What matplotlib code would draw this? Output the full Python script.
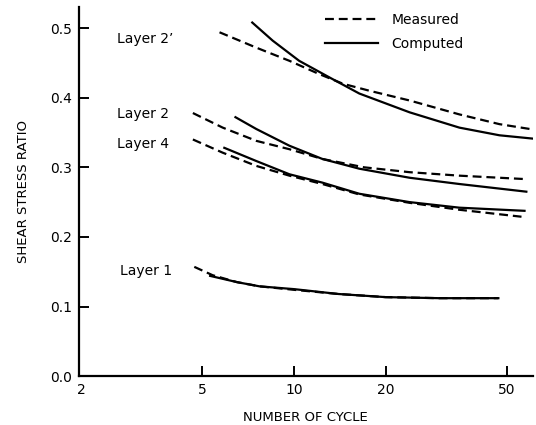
import matplotlib
matplotlib.use("Agg")
import matplotlib.pyplot as plt
from matplotlib.ticker import FixedLocator, FixedFormatter, NullLocator

# values (x = number of cycles, y = shear stress ratio)
l2p_meas_x = [5.69, 7.51, 9.66, 12.1, 14.5, 17.7, 24.0, 35.0, 47.4, 61.8]
l2p_meas_y = [0.494, 0.472, 0.453, 0.434, 0.420, 0.410, 0.396, 0.376, 0.362, 0.354]
l2p_comp_x = [7.29, 8.51, 10.4, 13.1, 16.4, 24.0, 35.0, 47.4, 61.8]
l2p_comp_y = [0.508, 0.482, 0.453, 0.429, 0.406, 0.379, 0.357, 0.346, 0.341]

l2_meas_x = [4.65, 5.83, 7.52, 9.66, 12.4, 17.0, 24.0, 35.0, 58.1]
l2_meas_y = [0.378, 0.357, 0.338, 0.326, 0.312, 0.300, 0.293, 0.288, 0.283]
l2_comp_x = [6.42, 7.52, 9.66, 12.4, 16.4, 24.0, 35.0, 58.1]
l2_comp_y = [0.372, 0.355, 0.331, 0.312, 0.298, 0.285, 0.276, 0.265]

l4_meas_x = [4.65, 5.83, 7.52, 9.66, 12.4, 16.4, 24.0, 35.0, 56.0]
l4_meas_y = [0.340, 0.321, 0.302, 0.288, 0.276, 0.261, 0.249, 0.239, 0.229]
l4_comp_x = [5.9, 7.52, 9.66, 12.4, 16.4, 24.0, 35.0, 57.3]
l4_comp_y = [0.328, 0.309, 0.290, 0.278, 0.262, 0.250, 0.242, 0.2375]

l1_meas_x = [4.7, 5.4, 6.5, 7.7, 10, 14, 20, 30, 47]
l1_meas_y = [0.157, 0.145, 0.135, 0.129, 0.124, 0.118, 0.1135, 0.112, 0.112]
l1_comp_x = [5.3, 6.5, 7.7, 10, 14, 20, 30, 47]
l1_comp_y = [0.144, 0.135, 0.129, 0.125, 0.118, 0.1135, 0.112, 0.112]

layer_names = ["Layer 2\u2019", "Layer 2", "Layer 4", "Layer 1"]
layer_label_xy = [(2.61, 0.484), (2.61, 0.376), (2.61, 0.333), (2.67, 0.151)]

x_ticks = [2, 5, 10, 20, 50]
y_ticks = [0.0, 0.1, 0.2, 0.3, 0.4, 0.5]

fig = plt.figure(figsize=(5.36, 4.25), dpi=100)
ax = fig.add_axes([0.147, 0.115, 0.847, 0.868])

dash = dict(color="black", lw=1.6, ls=(0, (4, 2.2)))
solid = dict(color="black", lw=1.6, ls="-")

ax.plot(l2p_meas_x, l2p_meas_y, label="Measured", **dash)
ax.plot(l2p_comp_x, l2p_comp_y, label="Computed", **solid)
ax.plot(l2_meas_x, l2_meas_y, **dash)
ax.plot(l2_comp_x, l2_comp_y, **solid)
ax.plot(l4_meas_x, l4_meas_y, **dash)
ax.plot(l4_comp_x, l4_comp_y, **solid)
ax.plot(l1_meas_x, l1_meas_y, **dash)
ax.plot(l1_comp_x, l1_comp_y, **solid)

for name, (tx, ty) in zip(layer_names, layer_label_xy):
    ax.text(tx, ty, name, fontsize=10, ha="left", va="center")

ax.set_xscale("log")
ax.set_xlim(1.96, 61)
ax.set_ylim(0, 0.53)
ax.xaxis.set_major_locator(FixedLocator(x_ticks))
ax.xaxis.set_major_formatter(FixedFormatter([str(t) for t in x_ticks]))
ax.xaxis.set_minor_locator(NullLocator())
ax.set_yticks(y_ticks)
ax.set_yticklabels([f"{t:.1f}" for t in y_ticks])

for s in ["top", "right"]:
    ax.spines[s].set_visible(False)
for s in ["left", "bottom"]:
    ax.spines[s].set_linewidth(1.6)
ax.tick_params(direction="in", length=7, width=1.4, labelsize=10, pad=5)
# no visible tick mark at 2 (sits on the y axis)
ax.xaxis.get_major_ticks()[0].tick1line.set_visible(False)
ax.yaxis.get_major_ticks()[0].tick1line.set_visible(False)

ax.set_xlabel("NUMBER OF CYCLE", fontsize=9.5, labelpad=10)
ax.set_ylabel("SHEAR STRESS RATIO", fontsize=9.5, labelpad=14)

ax.legend(loc="upper left", bbox_to_anchor=(0.542, 0.985), frameon=False,
          handlelength=3.8, handletextpad=1.0, labelspacing=0.75,
          borderpad=0, borderaxespad=0, fontsize=10)

fig.savefig("out.png", dpi=100)
